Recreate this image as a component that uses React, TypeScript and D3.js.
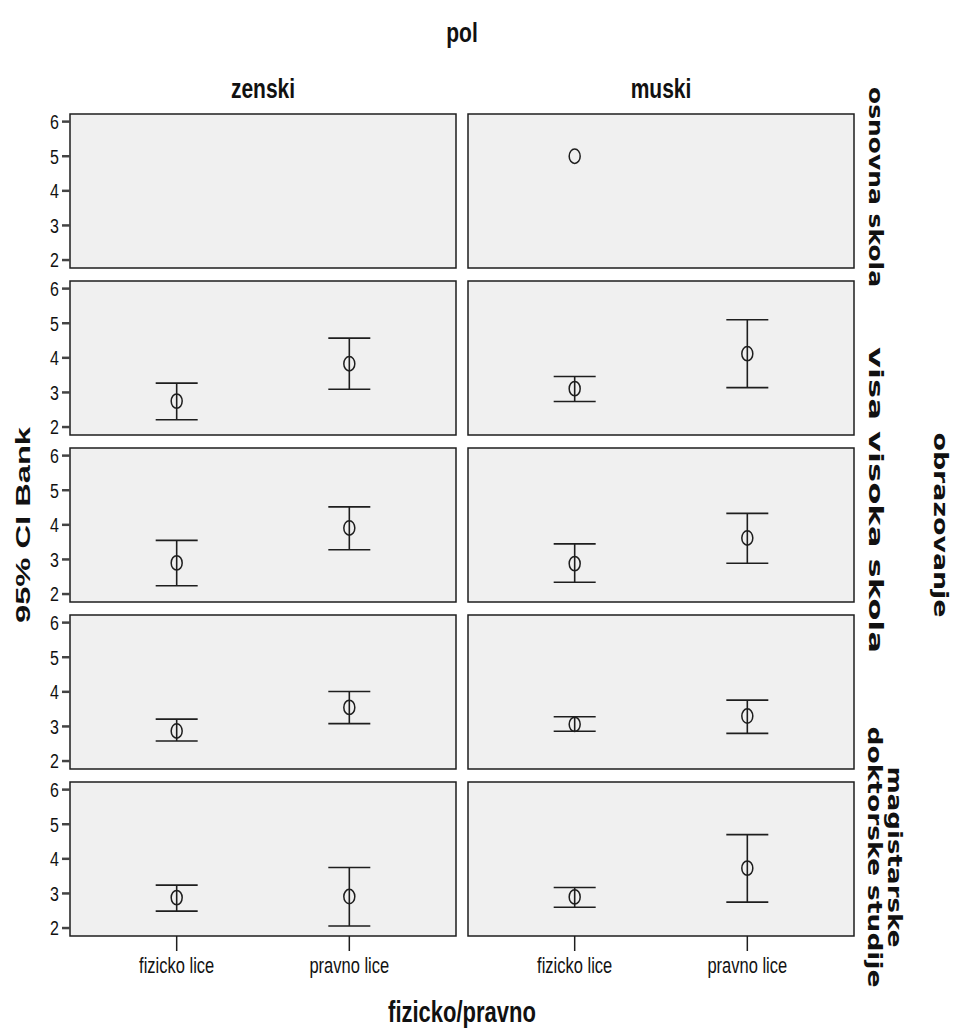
import React from "react";
import * as d3 from "d3";

// ---- data ----
const columnLabels = ["zenski", "muski"];
const categories = ["fizicko lice", "pravno lice"];
const rowLabelLines: string[][] = [
  ["osnovna skola"],
  [],
  ["visa visoka skola"],
  [],
  ["magistarske", "doktorske studije"],
];
const yTicks = [2, 3, 4, 5, 6];

// per row (5 education levels); null = no data
const zenskiFizickoMean = [null, 2.75, 2.9, 2.87, 2.88];
const zenskiFizickoLow = [null, 2.21, 2.24, 2.58, 2.49];
const zenskiFizickoHigh = [null, 3.27, 3.55, 3.21, 3.24];

const zenskiPravnoMean = [null, 3.83, 3.91, 3.55, 2.91];
const zenskiPravnoLow = [null, 3.09, 3.28, 3.08, 2.06];
const zenskiPravnoHigh = [null, 4.57, 4.52, 4.01, 3.75];

const muskiFizickoMean = [5.0, 3.11, 2.88, 3.06, 2.9];
const muskiFizickoLow = [null, 2.74, 2.34, 2.86, 2.6];
const muskiFizickoHigh = [null, 3.46, 3.45, 3.28, 3.17];

const muskiPravnoMean = [null, 4.12, 3.62, 3.3, 3.73];
const muskiPravnoLow = [null, 3.14, 2.89, 2.8, 2.75];
const muskiPravnoHigh = [null, 5.1, 4.33, 3.76, 4.7];

const seriesMean = [
  [zenskiFizickoMean, zenskiPravnoMean],
  [muskiFizickoMean, muskiPravnoMean],
];
const seriesLow = [
  [zenskiFizickoLow, zenskiPravnoLow],
  [muskiFizickoLow, muskiPravnoLow],
];
const seriesHigh = [
  [zenskiFizickoHigh, zenskiPravnoHigh],
  [muskiFizickoHigh, muskiPravnoHigh],
];

// ---- layout ----
const W = 956;
const H = 1032;
const panelLefts = [70, 468];
const panelW = 386;
const panelTop0 = 114;
const panelH = 154;
const rowStep = 167;
const SY = 1.3; // vertical stretch of the reference
const sans = "'Liberation Sans', Arial, sans-serif";
const dejavu = "'DejaVu Sans', Verdana, sans-serif";
const ink = "#1e1e1e";

const x = d3.scalePoint<string>().domain(categories).range([0, panelW]).padding(0.618);
const y = d3.scaleLinear().domain([1.77, 6.22]).range([panelH, 0]);

function HText(props: {
  x: number; y: number; text: string; size: number; bold?: boolean; anchor?: string; len?: number;
}) {
  const { text, size, bold, anchor = "middle", len } = props;
  return (
    <g transform={`translate(${props.x},${props.y}) scale(1,${SY})`}>
      <text
        textAnchor={anchor}
        dominantBaseline="central"
        fontFamily={sans}
        fontSize={size}
        fontWeight={bold ? "bold" : "normal"}
        fill="#111"
        {...(len ? { textLength: len, lengthAdjust: "spacingAndGlyphs" } : {})}
      >
        {text}
      </text>
    </g>
  );
}

function VText(props: {
  x: number; y: number; text: string; size: number; rot: number; len: number; family: string;
}) {
  return (
    <g transform={`translate(${props.x},${props.y}) rotate(${props.rot}) scale(${SY},1)`}>
      <text
        textAnchor="middle"
        dominantBaseline="central"
        fontFamily={props.family}
        fontSize={props.size}
        fontWeight="bold"
        fill="#111"
        textLength={props.len / SY}
        lengthAdjust="spacingAndGlyphs"
      >
        {props.text}
      </text>
    </g>
  );
}

const rowLabelLengths = [[200], [], [306], [], [181, 261]];
const rowLabelShift = [-4, 0, -25, 0, -2];

export default function App() {
  const nRows = rowLabelLines.length;
  const midY = panelTop0 + ((nRows - 1) * rowStep + panelH) / 2;
  const midX = (panelLefts[0] + panelLefts[1] + panelW) / 2;
  const lastBottom = panelTop0 + (nRows - 1) * rowStep + panelH;
  return (
    <svg
      width={W}
      height={H}
      style={{ position: "absolute", left: 0, top: 0, background: "#fff" }}
    >
      <HText x={midX} y={32} text="pol" size={21} bold />
      {columnLabels.map((c, ci) => (
        <HText key={c} x={panelLefts[ci] + panelW / 2} y={88} text={c} size={21} bold />
      ))}
      <VText x={23} y={midY} text="95% CI Bank" size={21} rot={-90} len={196} family={sans} />
      <VText x={941} y={midY} text="obrazovanje" size={20} rot={90} len={185} family={dejavu} />
      <HText x={midX} y={1012} text="fizicko/pravno" size={22} bold />

      {rowLabelLines.map((lines, ri) => {
        const cy = panelTop0 + ri * rowStep + panelH / 2 + rowLabelShift[ri];
        return lines.map((ln, li) => {
          const n = lines.length;
          const cx = 876 + (n - 1 - li) * 20 - (n - 1) * 1;
          return (
            <VText key={`${ri}-${li}`} x={cx} y={cy} text={ln} size={20} rot={90}
              len={rowLabelLengths[ri][li]} family={dejavu} />
          );
        });
      })}

      {rowLabelLines.map((_, ri) => {
        const top = panelTop0 + ri * rowStep;
        return columnLabels.map((_c, ci) => {
          const left = panelLefts[ci];
          return (
            <g key={`${ri}-${ci}`} transform={`translate(${left},${top})`}>
              <rect x={0} y={0} width={panelW} height={panelH} fill="#f0f0f0" stroke={ink} strokeWidth={1.5} />
              {ci === 0 &&
                yTicks.map((t) => (
                  <g key={t}>
                    <line x1={-8} x2={0} y1={y(t)} y2={y(t)} stroke="#444" strokeWidth={2.5} />
                    <HText x={-11} y={y(t)} text={String(t)} size={16} anchor="end" />
                  </g>
                ))}
              {ri === nRows - 1 &&
                categories.map((cat) => (
                  <g key={cat}>
                    <line x1={x(cat)!} x2={x(cat)!} y1={panelH} y2={panelH + 15} stroke={ink} strokeWidth={1.5} />
                    <HText x={x(cat)!} y={panelH + 30} text={cat} size={16.5} />
                  </g>
                ))}
              {categories.map((cat, ki) => {
                const m = seriesMean[ci][ki][ri];
                const lo = seriesLow[ci][ki][ri];
                const hi = seriesHigh[ci][ki][ri];
                const cx = x(cat)!;
                return (
                  <g key={cat}>
                    {lo != null && hi != null && (
                      <g stroke={ink} strokeWidth={1.6}>
                        <line x1={cx} x2={cx} y1={y(hi)} y2={y(lo)} />
                        <line x1={cx - 21} x2={cx + 21} y1={y(hi)} y2={y(hi)} />
                        <line x1={cx - 21} x2={cx + 21} y1={y(lo)} y2={y(lo)} />
                      </g>
                    )}
                    {m != null && (
                      <ellipse cx={cx} cy={y(m)} rx={5.5} ry={7.2} fill="none" stroke={ink} strokeWidth={1.5} />
                    )}
                  </g>
                );
              })}
            </g>
          );
        });
      })}
    </svg>
  );
}
